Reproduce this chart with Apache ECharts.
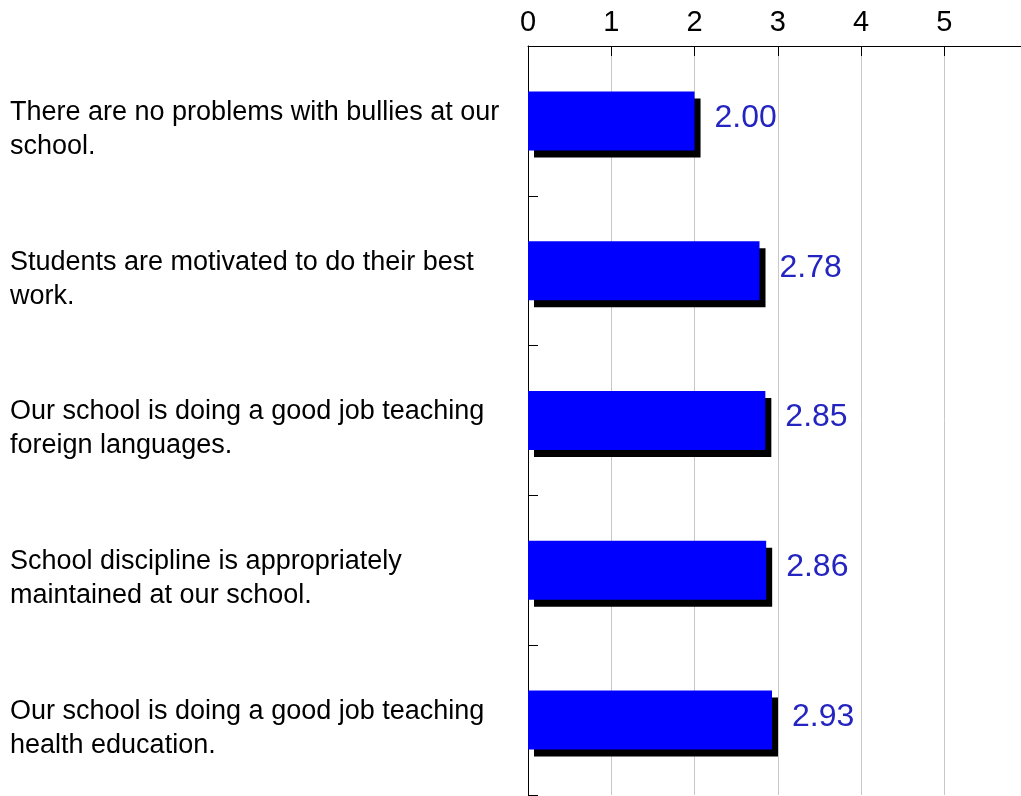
<!DOCTYPE html>
<html>
<head>
<meta charset="utf-8">
<script src="https://cdn.jsdelivr.net/npm/echarts@6/dist/echarts.min.js"></script>
<style>html,body{margin:0;padding:0;background:#fff}#c{width:1021px;height:796px}</style>
</head>
<body>
<div id="c"></div>
<script>
const categories = [
  "There are no problems with bullies at our\nschool.",
  "Students are motivated to do their best\nwork.",
  "Our school is doing a good job teaching\nforeign languages.",
  "School discipline is appropriately\nmaintained at our school.",
  "Our school is doing a good job teaching\nhealth education."
];
const values = [2.00, 2.78, 2.85, 2.86, 2.93];
const tickLabels = ["0", "1", "2", "3", "4", "5"];

const font = "'Liberation Sans', Arial, sans-serif";
const chart = echarts.init(document.getElementById('c'), null, {renderer: 'canvas'});
chart.setOption({
  animation: false,
  backgroundColor: '#fff',
  grid: {left: 528, top: 46, right: 0, bottom: 1, containLabel: false},
  xAxis: {
    type: 'value', position: 'top', min: 0, max: 5.92, interval: 1,
    axisLine: {show: true, lineStyle: {color: '#000', width: 1}},
    axisTick: {show: true, inside: true, length: 10, lineStyle: {color: '#000'},
      customValues: [1, 2, 3, 4, 5]},
    axisLabel: {
      margin: 9, color: '#000', fontSize: 29, fontFamily: font,
      customValues: [0, 1, 2, 3, 4, 5],
      formatter: v => (tickLabels[v] !== undefined ? tickLabels[v] : '')
    },
    splitLine: {show: true, showMinLine: true, showMaxLine: true,
      lineStyle: {color: '#c8c8c8', width: 1}}
  },
  yAxis: {
    type: 'category', inverse: true, data: categories,
    axisLine: {show: true, lineStyle: {color: '#000', width: 1}},
    axisTick: {show: true, inside: true, length: 10, lineStyle: {color: '#000'}},
    axisLabel: {
      align: 'left', margin: 518,
      formatter: v => '{s| }\n' + v.split('\n').map(l => '{t|' + l + '}').join('\n'),
      rich: {
        s: {fontSize: 2, lineHeight: 17},
        t: {color: '#000', fontSize: 27, lineHeight: 34, fontFamily: font}
      }
    },
    splitLine: {show: false}
  },
  series: [{
    type: 'bar', data: values, barWidth: 59,
    itemStyle: {
      color: '#0000FF',
      shadowColor: '#000', shadowBlur: 0, shadowOffsetX: 6, shadowOffsetY: 7
    },
    label: {
      show: true, position: 'right', distance: 20, offset: [0, -3],
      color: '#2424C0', fontSize: 32, fontFamily: font,
      formatter: p => p.value.toFixed(2)
    }
  }]
});
</script>
</body>
</html>
